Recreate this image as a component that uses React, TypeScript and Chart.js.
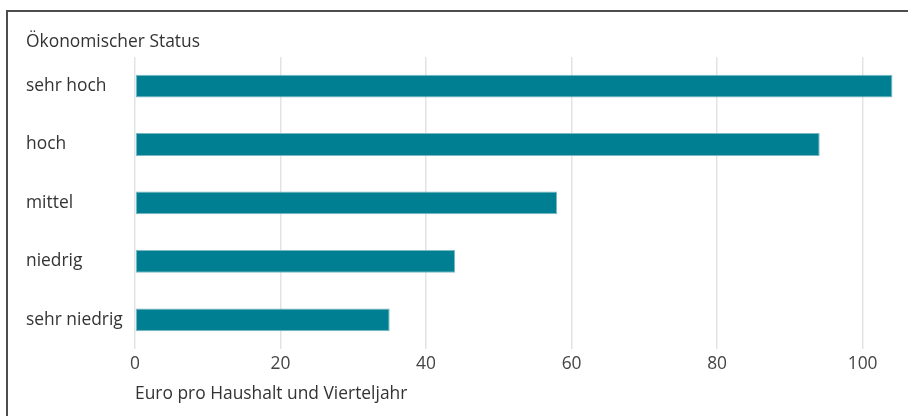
import React, { useEffect, useRef } from "react";
import { Chart, registerables } from "chart.js";

Chart.register(...registerables);

const categories = ["sehr hoch", "hoch", "mittel", "niedrig", "sehr niedrig"];
const values = [104.1, 94.1, 58.0, 44.0, 35.0];
const chartTitle = "Ökonomischer Status";
const xAxisTitle = "Euro pro Haushalt und Vierteljahr";
const xMax = 105;
const xStep = 20;

const FONT = "'Open Sans', 'Noto Sans', sans-serif";
const FS = 17.4;

export default function App() {
  const ref = useRef<HTMLCanvasElement | null>(null);

  useEffect(() => {
    if (!ref.current) return;
    const chart = new Chart(ref.current, {
      type: "bar",
      data: {
        labels: categories,
        datasets: [
          {
            data: values,
            backgroundColor: "#007f92",
            borderColor: "#79b9c3",
            borderWidth: 1,
            borderSkipped: false,
            barPercentage: 0.39,
            categoryPercentage: 1,
          },
        ],
      },
      options: {
        indexAxis: "y",
        animation: false,
        responsive: false,
        layout: { padding: { left: 26, top: 0, right: 9, bottom: 0 } },
        plugins: {
          legend: { display: false },
          tooltip: { enabled: false },
          title: {
            display: true,
            text: chartTitle,
            align: "start",
            color: "#333",
            font: { family: FONT, size: FS, weight: "normal", lineHeight: 1.2 },
            padding: { top: 32, bottom: 4 },
          },
        },
        scales: {
          x: {
            min: 0,
            max: xMax,
            border: { display: false },
            grid: { color: "#e3e3e3", lineWidth: 1.5, drawTicks: false },
            ticks: {
              stepSize: xStep,
              includeBounds: false,
              color: "#444",
              padding: 5,
              font: { family: FONT, size: FS },
            },
            title: {
              display: true,
              text: xAxisTitle,
              align: "start",
              color: "#333",
              font: { family: FONT, size: FS, lineHeight: 1.2 },
              padding: { top: 0, bottom: 12 },
            },
            afterFit: (scale: any) => {
              scale.height = 67;
            },
          },
          y: {
            border: { display: false },
            grid: { display: false, drawTicks: false },
            ticks: {
              crossAlign: "far",
              color: "#333",
              font: { family: FONT, size: FS },
            },
            afterFit: (scale: any) => {
              scale.width = 109;
            },
          },
        },
      },
    });
    return () => chart.destroy();
  }, []);

  return (
    <div
      style={{
        position: "fixed",
        left: 0,
        top: 0,
        width: 908,
        height: 416,
        overflow: "hidden",
        background: "#fff",
      }}
    >
      <div
        style={{
          position: "absolute",
          left: 6,
          top: 10,
          width: 1000,
          height: 1000,
          border: "2px solid #4d4d4d",
        }}
      />
      <canvas
        ref={ref}
        width={908}
        height={416}
        style={{ position: "absolute", left: 0, top: 0, width: 908, height: 416 }}
      />
    </div>
  );
}
